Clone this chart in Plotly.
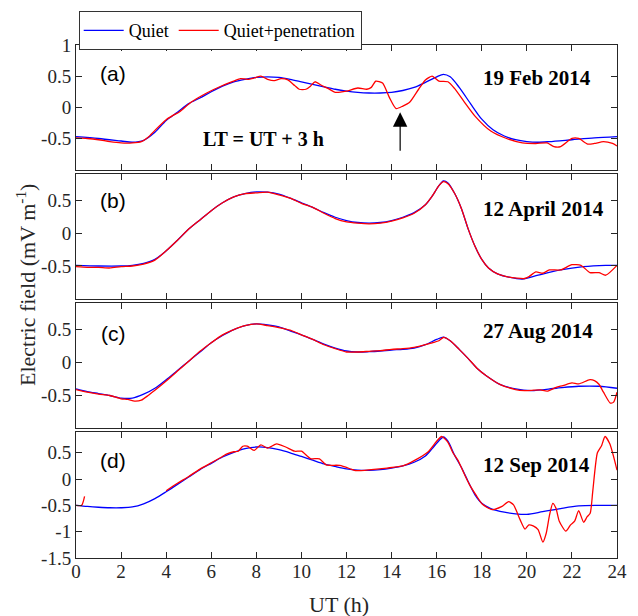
import plotly.graph_objects as go

# ---------------- data ----------------
# Panel (a) 19 Feb 2014
ha_q = [0, 1, 2, 2.5, 3, 3.5, 4, 4.5, 5, 5.5, 6, 6.5, 7, 7.5, 8, 8.5, 9, 9.5, 10, 10.5, 11, 11.5, 12, 12.5, 13,
        13.5, 14, 14.5, 15, 15.5, 16, 16.3, 16.6, 17, 17.5, 18, 18.5, 19, 19.5, 20, 20.5, 21, 22, 23, 24]
ea_q = [-0.47, -0.5, -0.54, -0.56, -0.53, -0.4, -0.21, -0.08, 0.06, 0.15, 0.25, 0.34, 0.41, 0.45, 0.48, 0.49, 0.48,
        0.45, 0.41, 0.37, 0.33, 0.29, 0.26, 0.24, 0.23, 0.23, 0.24, 0.27, 0.32, 0.4, 0.49, 0.53, 0.49, 0.32, 0.06,
        -0.19, -0.36, -0.46, -0.52, -0.55, -0.56, -0.55, -0.52, -0.49, -0.47]
ha_p = [0, 0.5, 1, 1.5, 2, 2.5, 2.9, 3.2, 3.5, 4, 4.3, 4.6, 5.1, 5.8, 6.5, 7.0, 7.3, 7.6, 7.9, 8.2, 8.5, 8.8, 9.1,
        9.4, 9.7, 9.9, 10.2, 10.4, 10.6, 10.9, 11.2, 11.5, 12.0, 12.5, 12.9, 13.1, 13.3, 13.6, 13.9, 14.2, 14.5,
        14.8, 15.2, 15.5, 15.8, 16.1, 16.5, 16.8, 17.2, 17.7, 18.4, 19.1, 19.8, 20.4, 20.9, 21.2, 21.5, 22.0, 22.3,
        22.7, 23.0, 23.4, 23.8, 24]
ea_p = [-0.49, -0.5, -0.52, -0.55, -0.57, -0.57, -0.55, -0.48, -0.37, -0.2, -0.13, -0.07, 0.08, 0.23, 0.35, 0.42,
        0.46, 0.45, 0.47, 0.5, 0.45, 0.43, 0.46, 0.44, 0.35, 0.29, 0.29, 0.34, 0.41, 0.35, 0.3, 0.24, 0.26, 0.31,
        0.29, 0.32, 0.42, 0.39, 0.16, -0.02, 0.02, 0.08, 0.29, 0.44, 0.5, 0.42, 0.41, 0.3, 0.1, -0.14, -0.38,
        -0.5, -0.57, -0.58, -0.57, -0.63, -0.63, -0.5, -0.5, -0.59, -0.58, -0.55, -0.58, -0.62]

# Panel (b) 12 April 2014
hb_q = [0, 1, 2, 2.5, 3, 3.5, 4, 4.5, 5, 5.5, 6, 6.5, 7, 7.5, 8, 8.5, 9, 9.5, 10, 10.5, 11, 11.5, 12, 12.5, 13,
        13.5, 14, 14.5, 15, 15.5, 15.8, 16.1, 16.3, 16.5, 16.8, 17.1, 17.4, 17.7, 18.0, 18.3, 18.7, 19.2, 19.8,
        20.5, 21.5, 22.5, 23.5, 24]
eb_q = [-0.49, -0.5, -0.5, -0.49, -0.46, -0.4, -0.27, -0.11, 0.06, 0.2, 0.34, 0.46, 0.55, 0.6, 0.625, 0.62, 0.59,
        0.53, 0.46, 0.39, 0.31, 0.24, 0.19, 0.16, 0.15, 0.16, 0.19, 0.24, 0.31, 0.43, 0.56, 0.72, 0.79, 0.76, 0.6,
        0.37, 0.06, -0.2, -0.4, -0.53, -0.62, -0.67, -0.7, -0.64, -0.56, -0.51, -0.49, -0.49]
hb_p = [0, 0.5, 1, 1.5, 2, 2.5, 3, 3.5, 4, 4.5, 5, 5.5, 6, 6.5, 7, 7.5, 8, 8.5, 9, 9.5, 10, 10.5, 11, 11.5, 12,
        12.5, 13, 13.5, 14, 14.5, 15, 15.5, 15.8, 16.1, 16.3, 16.5, 16.8, 17.1, 17.4, 17.7, 18.0, 18.3, 18.7, 19.2,
        19.9, 20.1, 20.4, 20.7, 21.0, 21.5, 22.0, 22.4, 22.8, 23.2, 23.5, 24]
eb_p = [-0.51, -0.52, -0.52, -0.53, -0.51, -0.5, -0.47, -0.41, -0.27, -0.11, 0.06, 0.2, 0.34, 0.46, 0.55, 0.6,
        0.61, 0.62, 0.58, 0.53, 0.45, 0.39, 0.3, 0.22, 0.17, 0.15, 0.14, 0.15, 0.18, 0.23, 0.3, 0.43, 0.56, 0.72,
        0.78, 0.75, 0.6, 0.37, 0.06, -0.2, -0.4, -0.53, -0.62, -0.67, -0.69, -0.66, -0.59, -0.61, -0.56, -0.56,
        -0.48, -0.49, -0.6, -0.6, -0.64, -0.49]

# Panel (c) 27 Aug 2014
hc_q = [0, 0.5, 1, 1.5, 2, 2.5, 3, 3.5, 4, 4.5, 5, 5.5, 6, 6.5, 7, 7.5, 8, 8.5, 9, 9.5, 10, 10.5, 11, 11.5, 12,
        12.5, 13, 13.5, 14, 14.5, 15, 15.5, 16, 16.3, 16.6, 17, 17.4, 17.8, 18.2, 18.8, 19.5, 20.2, 21.3, 22.3,
        23.2, 24]
ec_q = [-0.4, -0.44, -0.47, -0.5, -0.54, -0.54, -0.48, -0.39, -0.26, -0.12, 0.02, 0.16, 0.3, 0.41, 0.5, 0.56,
        0.585, 0.57, 0.54, 0.48, 0.42, 0.35, 0.28, 0.22, 0.175, 0.16, 0.165, 0.175, 0.19, 0.2, 0.22, 0.27, 0.35,
        0.385, 0.33, 0.2, 0.06, -0.09, -0.2, -0.33, -0.4, -0.425, -0.39, -0.36, -0.36, -0.39]
hc_p = [0, 0.5, 1, 1.5, 2, 2.3, 2.6, 2.9, 3.2, 3.5, 4, 4.5, 5, 5.5, 6, 6.5, 7, 7.5, 8, 8.5, 9, 9.5, 10, 10.5, 11,
        11.5, 12, 12.5, 13, 13.5, 14, 14.5, 15, 15.5, 15.8, 16.1, 16.3, 16.6, 17, 17.4, 17.8, 18.2, 18.8, 19.5,
        19.9, 20.3, 20.6, 20.9, 21.3, 21.6, 22.0, 22.3, 22.8, 23.0, 23.2, 23.4, 23.7, 23.85, 24]
ec_p = [-0.41, -0.45, -0.48, -0.5, -0.55, -0.56, -0.585, -0.57, -0.5, -0.42, -0.28, -0.13, 0.02, 0.17, 0.3, 0.42,
        0.5, 0.56, 0.585, 0.56, 0.53, 0.49, 0.42, 0.35, 0.27, 0.21, 0.16, 0.16, 0.17, 0.18, 0.2, 0.21, 0.23, 0.27,
        0.3, 0.33, 0.38, 0.33, 0.2, 0.06, -0.09, -0.2, -0.33, -0.41, -0.425, -0.42, -0.415, -0.435, -0.375, -0.35,
        -0.31, -0.325, -0.26, -0.275, -0.33, -0.45, -0.615, -0.6, -0.45]

# Panel (d) 12 Sep 2014
hd_q = [0, 0.5, 1, 1.5, 2, 2.5, 3, 3.5, 4, 4.5, 5, 5.5, 6, 6.5, 7, 7.5, 8, 8.5, 9, 9.5, 10, 10.5, 11, 11.5, 12,
        12.5, 13, 13.5, 14, 14.5, 15, 15.5, 15.8, 16.1, 16.3, 16.5, 16.8, 17.1, 17.4, 17.7, 18.0, 18.4, 19.0,
        19.5, 20.0, 20.7, 21.5, 22.3, 23.2, 24]
ed_q = [-0.5, -0.52, -0.535, -0.545, -0.545, -0.53, -0.47, -0.37, -0.24, -0.1, 0.04, 0.18, 0.3, 0.42, 0.51, 0.58,
        0.61, 0.6, 0.56, 0.5, 0.43, 0.36, 0.29, 0.24, 0.195, 0.17, 0.165, 0.18, 0.21, 0.25, 0.32, 0.44, 0.58, 0.73,
        0.8, 0.72, 0.45, 0.22, -0.05, -0.3, -0.46, -0.56, -0.63, -0.66, -0.67, -0.62, -0.56, -0.51, -0.5, -0.5]
hd_p = [0, 0.25, 0.38, 2, 4.0, 4.5, 5, 5.5, 6, 6.5, 6.7, 7.0, 7.2, 7.4, 7.6, 7.9, 8.2, 8.5, 8.9, 9.3, 9.7, 10.0,
        10.4, 10.8, 11.1, 11.7, 12.2, 12.4, 13.1, 13.8, 14.5, 15.0, 15.6, 16.0, 16.22, 16.5, 16.72, 16.94, 17.2,
        17.45, 17.74, 18.03, 18.46, 18.9, 19.19, 19.41, 19.7, 19.92, 20.09, 20.28, 20.5, 20.71, 20.86, 21.0, 21.15,
        21.29, 21.44, 21.73, 21.94, 22.12, 22.3, 22.52, 22.67, 22.81, 22.93, 23.13, 23.32, 23.47, 23.68, 24]
ed_p = [-0.5, -0.5, -0.33, None, -0.22, -0.08, 0.05, 0.19, 0.31, 0.43, 0.48, 0.52, 0.53, 0.625, 0.625, 0.545,
        0.65, 0.59, 0.67, 0.61, 0.53, 0.53, 0.39, 0.385, 0.27, 0.26, 0.19, 0.16, 0.18, 0.21, 0.25, 0.35, 0.51, 0.72,
        0.81, 0.7, 0.5, 0.36, 0.12, -0.1, -0.3, -0.48, -0.58, -0.52, -0.43, -0.49, -0.77, -0.95, -0.87, -0.89,
        -0.96, -1.2, -1.03, -0.7, -0.46, -0.55, -0.8, -0.99, -0.87, -0.8, -0.6, -0.82, -0.72, -0.65, -0.21, 0.5,
        0.64, 0.81, 0.67, 0.17]

panel_labels = ["(a)", "(b)", "(c)", "(d)"]
dates = ["19 Feb 2014", "12 April 2014", "27 Aug 2014", "12 Sep 2014"]
x_ticks = list(range(0, 25, 2))
y_ticks = [[-0.5, 0, 0.5, 1], [-0.5, 0, 0.5], [-0.5, 0, 0.5], [-1.5, -1, -0.5, 0, 0.5]]
y_ticktext = [["-0.5", "0", "0.5", "1"], ["-0.5", "0", "0.5"], ["-0.5", "0", "0.5"],
              ["-1.5", "-1", "-0.5", "0", "0.5"]]
y_ranges = [[-1, 1], [-1, 0.9], [-1, 0.9], [-1.5, 0.9]]

series = [(ha_q, ea_q, ha_p, ea_p), (hb_q, eb_q, hb_p, eb_p), (hc_q, ec_q, hc_p, ec_p), (hd_q, ed_q, hd_p, ed_p)]

# ---------------- figure ----------------
BLUE = "#0000ff"
RED = "#ff0000"
SERIF = "Liberation Serif, Times New Roman, serif"
SANS = "Liberation Sans, Arial, sans-serif"
AXC = "#262626"

fig = go.Figure()
domains = [[0.757, 1.0], [0.505, 0.749], [0.2525, 0.4967], [0.0, 0.2461]]

for i, (hq, eq, hp, ep) in enumerate(series):
    xa = "x" if i == 0 else f"x{i+1}"
    ya = "y" if i == 0 else f"y{i+1}"
    fig.add_trace(go.Scatter(x=hq, y=eq, mode="lines", name="Quiet", xaxis=xa, yaxis=ya,
                             line=dict(color=BLUE, width=1.3, shape="spline", smoothing=0.8),
                             showlegend=(i == 0), legendgroup="q"))
    fig.add_trace(go.Scatter(x=hp, y=ep, mode="lines", name="Quiet+penetration", xaxis=xa, yaxis=ya,
                             line=dict(color=RED, width=1.3, shape="spline", smoothing=0.6),
                             connectgaps=False, showlegend=(i == 0), legendgroup="p"))

layout = dict(
    width=638, height=616,
    margin=dict(l=76, r=11, t=42, b=58),
    paper_bgcolor="white", plot_bgcolor="white",
    font=dict(family=SERIF, size=18, color="black"),
    showlegend=True,
    legend=dict(orientation="h", x=0.005, y=1.066, xanchor="left", yanchor="top",
                bordercolor="#333333", borderwidth=1, font=dict(family=SERIF, size=18),
                bgcolor="white", tracegroupgap=0, itemwidth=40),
)
for i in range(4):
    xk = "xaxis" if i == 0 else f"xaxis{i+1}"
    yk = "yaxis" if i == 0 else f"yaxis{i+1}"
    ya = "y" if i == 0 else f"y{i+1}"
    xa = "x" if i == 0 else f"x{i+1}"
    layout[xk] = dict(domain=[0, 1], anchor=ya, range=[0, 24], tickvals=x_ticks,
                      ticktext=[str(v) for v in x_ticks], showticklabels=(i == 3),
                      ticks="inside", ticklen=6, tickcolor=AXC, showline=True, linecolor=AXC,
                      linewidth=1, mirror="ticks", showgrid=False, zeroline=False,
                      ticklabelstandoff=-4,
                      tickfont=dict(family=SERIF, size=19, color=AXC))
    layout[yk] = dict(domain=domains[i], anchor=xa, range=y_ranges[i], tickvals=y_ticks[i],
                      ticktext=y_ticktext[i], ticks="inside", ticklen=6, tickcolor=AXC,
                      showline=True, linecolor=AXC, linewidth=1, mirror="ticks", showgrid=False,
                      zeroline=False, tickfont=dict(family=SERIF, size=19, color=AXC))
fig.update_layout(**layout)

ann = []
label_y = [0.775, 0.788, 0.762, 0.774]
date_y = [0.735, 0.719, 0.775, 0.735]
for i in range(4):
    xr = "x domain" if i == 0 else f"x{i+1} domain"
    yr = "y domain" if i == 0 else f"y{i+1} domain"
    ann.append(dict(text=panel_labels[i], xref=xr, yref=yr, x=0.069, y=label_y[i], showarrow=False,
                    font=dict(family=SANS, size=21, color="black"), xanchor="center", yanchor="middle"))
    ann.append(dict(text="<b>" + dates[i] + "</b>", xref=xr, yref=yr, x=0.748, y=date_y[i], showarrow=False,
                    font=dict(family=SERIF, size=21, color="black"), xanchor="left", yanchor="middle"))
ann.append(dict(text="<b>LT = UT + 3 h</b>", xref="x domain", yref="y domain", x=0.347, y=0.244,
                showarrow=False, font=dict(family=SERIF, size=20, color="black"),
                xanchor="center", yanchor="middle"))
ann.append(dict(text="", x=14.38, y=-0.08, ax=14.38, ay=-0.72, xref="x", yref="y", axref="x", ayref="y",
                showarrow=True, arrowhead=2, arrowsize=2.4, arrowwidth=1.2, arrowcolor="black"))
ann.append(dict(text="Electric field (mV m<sup>-1</sup>)", xref="paper", yref="paper", x=-0.0926, y=0.532,
                textangle=-90, showarrow=False, font=dict(family=SERIF, size=22, color=AXC),
                xanchor="center", yanchor="middle"))
ann.append(dict(text="UT (h)", xref="paper", yref="paper", x=0.486, y=-0.091, showarrow=False,
                font=dict(family=SERIF, size=22, color=AXC), xanchor="center", yanchor="middle"))
fig.update_layout(annotations=ann)

fig.write_html("out.html")
